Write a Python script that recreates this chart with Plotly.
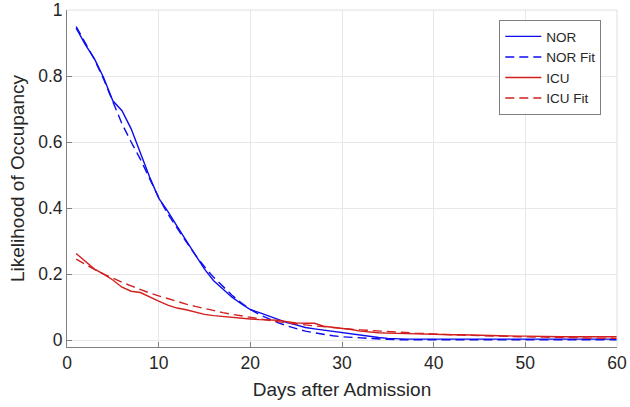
import plotly.graph_objects as go

days = list(range(1, 61))

nor = [0.945, 0.895, 0.852, 0.795, 0.725, 0.695, 0.640, 0.565, 0.495, 0.430,
       0.390, 0.345, 0.300, 0.258, 0.215, 0.180, 0.155, 0.130, 0.110, 0.092,
       0.083, 0.073, 0.063, 0.053, 0.046, 0.038, 0.034, 0.030, 0.026, 0.022,
       0.018, 0.014, 0.011, 0.008, 0.005, 0.003, 0.003, 0.003, 0.003, 0.003,
       0.003, 0.003, 0.003, 0.003, 0.003, 0.003, 0.003, 0.003, 0.003, 0.003,
       0.003, 0.003, 0.003, 0.003, 0.003, 0.003, 0.003, 0.003, 0.003, 0.003]

nor_fit = [0.950, 0.900, 0.850, 0.790, 0.720, 0.655, 0.600, 0.548, 0.490, 0.432,
           0.382, 0.338, 0.298, 0.258, 0.222, 0.190, 0.162, 0.136, 0.113, 0.093,
           0.077, 0.064, 0.053, 0.043, 0.034, 0.027, 0.022, 0.017, 0.013, 0.010,
           0.008, 0.006, 0.004, 0.003, 0.002, 0.001, 0.001, 0.001, 0.001, 0.001,
           0.001, 0.001, 0.001, 0.001, 0.001, 0.001, 0.001, 0.001, 0.001, 0.001,
           0.001, 0.001, 0.001, 0.001, 0.001, 0.001, 0.001, 0.001, 0.001, 0.001]

icu = [0.262, 0.238, 0.215, 0.200, 0.182, 0.160, 0.148, 0.144, 0.130, 0.118,
       0.106, 0.097, 0.092, 0.085, 0.078, 0.074, 0.071, 0.069, 0.066, 0.064,
       0.062, 0.061, 0.060, 0.056, 0.052, 0.051, 0.051, 0.042, 0.039, 0.036,
       0.032, 0.027, 0.024, 0.022, 0.021, 0.020, 0.019, 0.019, 0.018, 0.018,
       0.017, 0.016, 0.016, 0.015, 0.014, 0.014, 0.013, 0.013, 0.012, 0.012,
       0.011, 0.010, 0.010, 0.010, 0.010, 0.010, 0.010, 0.010, 0.010, 0.010]

icu_fit = [0.245, 0.229, 0.214, 0.200, 0.187, 0.175, 0.164, 0.153, 0.143, 0.134,
           0.125, 0.117, 0.109, 0.102, 0.095, 0.089, 0.083, 0.078, 0.073, 0.068,
           0.064, 0.060, 0.056, 0.052, 0.049, 0.046, 0.043, 0.040, 0.038, 0.035,
           0.033, 0.031, 0.029, 0.027, 0.025, 0.024, 0.022, 0.021, 0.020, 0.018,
           0.017, 0.016, 0.015, 0.014, 0.013, 0.013, 0.012, 0.011, 0.010, 0.010,
           0.009, 0.009, 0.008, 0.008, 0.007, 0.007, 0.006, 0.006, 0.006, 0.005]

x_ticks = [0, 10, 20, 30, 40, 50, 60]
y_ticks = [0, 0.2, 0.4, 0.6, 0.8, 1]
y_tick_labels = ["0", "0.2", "0.4", "0.6", "0.8", "1"]

BLUE = "#0c0cee"
RED = "#d21f1f"
DASH = "9px,5px"

fig = go.Figure()
fig.add_trace(go.Scatter(x=days, y=nor, mode="lines", name="NOR",
                         line=dict(color=BLUE, width=1.4)))
fig.add_trace(go.Scatter(x=days, y=nor_fit, mode="lines", name="NOR Fit",
                         line=dict(color=BLUE, width=1.4, dash=DASH)))
fig.add_trace(go.Scatter(x=days, y=icu, mode="lines", name="ICU",
                         line=dict(color=RED, width=1.4)))
fig.add_trace(go.Scatter(x=days, y=icu_fit, mode="lines", name="ICU Fit",
                         line=dict(color=RED, width=1.4, dash=DASH)))

font_family = "Liberation Sans, Arial, Helvetica, sans-serif"
text_color = "#262626"

fig.update_layout(
    width=630, height=407,
    margin=dict(l=67, r=13, t=10, b=60, autoexpand=False),
    paper_bgcolor="white", plot_bgcolor="white",
    font=dict(family=font_family, color=text_color, size=16),
    showlegend=True,
    legend=dict(x=0.786, y=0.97, xanchor="left", yanchor="top",
                bgcolor="white", bordercolor="#7f7f7f", borderwidth=1,
                font=dict(size=13.5, color=text_color), tracegroupgap=0,
                itemwidth=36),
    xaxis=dict(range=[0, 60], tickvals=x_ticks, ticks="inside", ticklen=5,
               tickcolor="#808080", showline=True, linecolor="#808080",
               linewidth=1, showgrid=True, gridcolor="#e8e8e8", zeroline=False,
               automargin=False,
               tickfont=dict(size=17.5, color=text_color),
               title=dict(text="Days after Admission",
                          font=dict(size=19, color=text_color), standoff=10)),
    yaxis=dict(range=[-0.021, 1.0], tickvals=y_ticks, ticktext=y_tick_labels,
               ticks="inside", ticklen=5, tickcolor="#808080", showline=True,
               linecolor="#808080", linewidth=1, showgrid=True,
               gridcolor="#e8e8e8", zeroline=False, automargin=False,
               ticklabelstandoff=0,
               tickfont=dict(size=17.5, color=text_color),
               title=dict(text="Likelihood of Occupancy",
                          font=dict(size=19, color=text_color), standoff=8)),
)

# light top and right border of the axes box
fig.add_shape(type="line", xref="paper", yref="paper", x0=0, x1=1, y0=1, y1=1,
              line=dict(color="#e0e0e0", width=1))
fig.add_shape(type="line", xref="paper", yref="paper", x0=1, x1=1, y0=0, y1=1,
              line=dict(color="#e0e0e0", width=1))

fig.write_html("out.html",
               config={"displayModeBar": False},
               post_script="document.body.style.margin='0px';document.body.style.overflow='hidden';")
